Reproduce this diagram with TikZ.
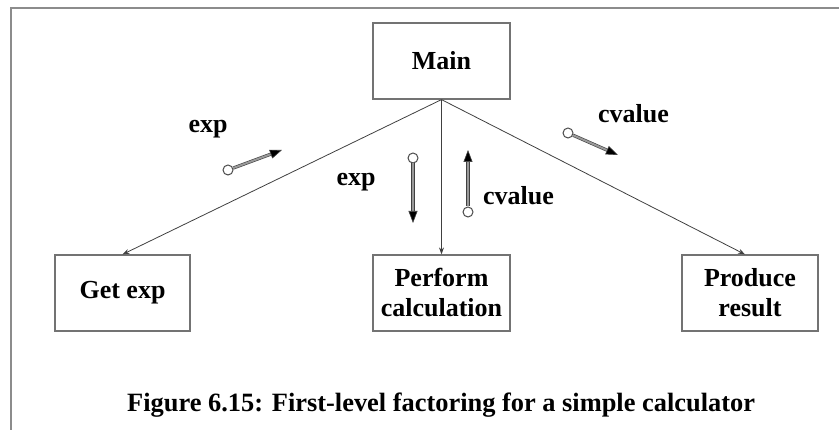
\documentclass[tikz,border=0pt]{standalone}
\usepackage{fontspec}
\setmainfont{Liberation Serif}
\usetikzlibrary{arrows.meta}
\tikzset{
  module/.style={draw=black!55, line width=1.2pt, fill=white, minimum width=137pt,
    minimum height=76pt, align=center, inner sep=0pt,
    font=\bfseries\fontsize{26}{30}\selectfont},
  call/.style={draw=black!75, line width=0.8pt, -{Stealth[length=7pt,width=5pt]}},
  couplebase/.style={circle, draw=black!70, line width=1pt, fill=white,
    minimum size=10pt, inner sep=0pt},
  coupleshaft/.style={draw=black!75, line width=0.6pt, double=black!40,
    double distance=2pt, -{Triangle[length=12pt,width=9pt,fill=black]}},
  flowlabel/.style={anchor=base, inner sep=0pt, font=\bfseries\fontsize{26}{30}\selectfont},
  frameline/.style={draw=black!45, line width=2pt},
}
\begin{document}
\begin{tikzpicture}[x=1pt,y=-1pt]
  \useasboundingbox (0,0) rectangle (839,430);
  % page frame (top and left edges)
  \coordinate (fbl) at (10.5,431);
  \coordinate (ftl) at (10.5,8.5);
  \coordinate (ftr) at (840,8.5);
  \draw[frameline] (fbl) -- (ftl) -- (ftr);

  % modules
  \node[module] (main) at (441.5,61) {Main};
  \node[module, minimum width=135pt] (get) at (122.5,293) {Get exp};
  \node[module] (perform) at (441.5,293) {Perform\\calculation};
  \node[module, minimum width=136pt] (produce) at (750,293) {Produce\\result};

  % calls
  \draw[call] (main.south) -- (get.north);
  \draw[call] (main.south) -- (perform.north);
  \draw[call] (main.south) -- ([xshift=-5pt]produce.north);

  % data couples
  \node[couplebase] (c1) at (228,170) {};
  \coordinate (c1t) at (282,150);
  \draw[coupleshaft] (c1) -- (c1t);
  \node[flowlabel] (l1) at (208,133) {exp};

  \node[couplebase] (c2) at (413,158) {};
  \coordinate (c2t) at (413,223);
  \draw[coupleshaft] (c2) -- (c2t);
  \node[flowlabel] (l2) at (356,186) {exp};

  \node[couplebase] (c3) at (468,212) {};
  \coordinate (c3t) at (468,150);
  \draw[coupleshaft] (c3) -- (c3t);
  \node[flowlabel, anchor=base west] (l3) at (483,205) {cvalue};

  \node[couplebase] (c4) at (568,133) {};
  \coordinate (c4t) at (618,155);
  \draw[coupleshaft] (c4) -- (c4t);
  \node[flowlabel, anchor=base west] (l4) at (598,123) {cvalue};

  % caption
  \node[flowlabel, anchor=base west, font=\bfseries\fontsize{26.4}{30}\selectfont] (cap) at (127,412)
    {Figure 6.15: First-level factoring for a simple calculator};
\end{tikzpicture}
\end{document}
